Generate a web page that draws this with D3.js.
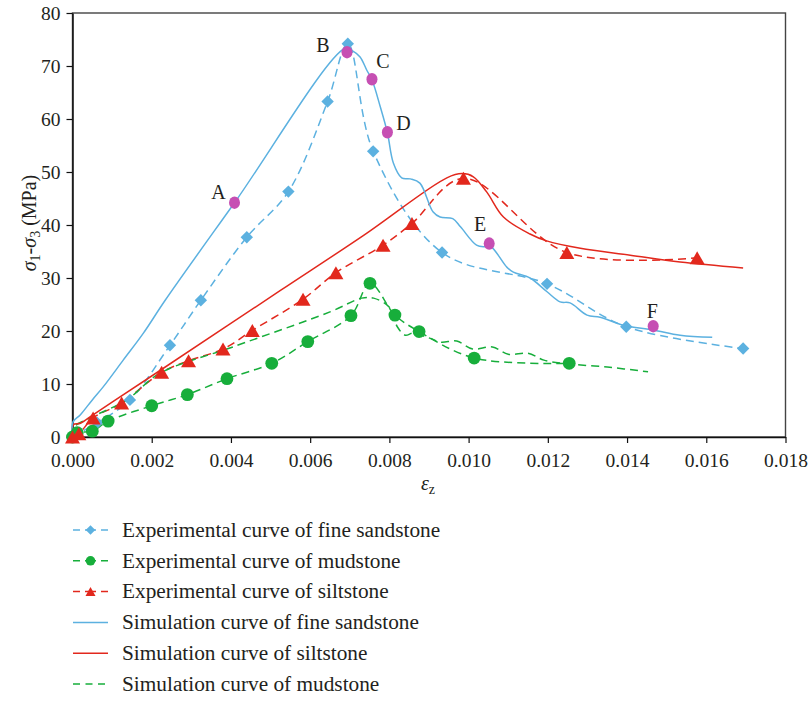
<!DOCTYPE html>
<html>
<head>
<meta charset="utf-8">
<script src="https://cdn.jsdelivr.net/npm/d3@7"></script>
<style>
  html, body { margin: 0; padding: 0; background: #fff; }
  svg { display: block; }
  text { font-family: "Liberation Serif", "DejaVu Serif", serif; fill: #231f20; }
</style>
</head>
<body>
<svg id="chart" width="811" height="701"></svg>
<script>
// Axial strain vs. deviatoric stress for three rock types
const xTicks = [0, 0.002, 0.004, 0.006, 0.008, 0.010, 0.012, 0.014, 0.016, 0.018];
const yTicks = [0, 10, 20, 30, 40, 50, 60, 70, 80];

// Experimental curves [strain, stress MPa]
const expSandstone = [[0,0],[0.00062,2.7],[0.00145,7],[0.00246,17.3],[0.00324,25.8],[0.0044,37.7],
  [0.00545,46.3],[0.00644,63.3],[0.00695,74.2],[0.00759,53.9],[0.00933,34.8],[0.01198,28.9],
  [0.01398,20.8],[0.01693,16.7]];
const expMudstone = [[0,0],[0.00012,0.8],[0.0005,1.1],[0.0009,3],[0.002,5.9],[0.0029,8],[0.0039,11],
  [0.00503,13.9],[0.00594,18],[0.00703,22.9],[0.00751,29],[0.00814,23],[0.00875,19.9],
  [0.01014,14.9],[0.01254,13.9]];
const expSiltstone = [[0,0],[0.00016,0.6],[0.00052,3.6],[0.00124,6.4],[0.00225,12.2],[0.00293,14.4],
  [0.0038,16.6],[0.00454,20.1],[0.00582,26],[0.00665,31],[0.00784,36.2],[0.00857,40.3],
  [0.00987,48.8],[0.01248,34.8],[0.01577,33.8]];

// Simulation curves
const simSandstone = [[0,0],[0.00001,2.8],[0.0002,4.2],[0.0005,7],[0.00078,9.5],[0.00128,14.5],
  [0.00179,19.6],[0.00234,25.8],[0.00409,44.2],[0.00688,73.3],[0.00708,72.8],[0.00726,71.7],
  [0.00743,69.2],[0.00756,67.4],[0.00777,62.3],[0.00795,57.4],[0.0081,51.7],[0.00831,48.9],
  [0.00853,48.7],[0.00877,47.9],[0.0091,42.5],[0.00928,41.5],[0.0096,41.2],[0.0098,39.6],
  [0.0102,36.2],[0.0104,35.9],[0.01055,36],[0.01097,32],[0.01113,31.1],[0.01155,30],
  [0.01198,27.4],[0.01231,25.5],[0.01256,25.3],[0.01299,23],[0.01332,22.6],[0.0139,21.1],
  [0.01466,20.2],[0.01534,19.2],[0.01615,18.8]];
const simSiltstone = [[0,0],[0.00002,2.3],[0.0002,2.6],[0.0005,4.1],[0.001,6.6],[0.0022,12.5],
  [0.00524,27.6],[0.00734,38],[0.00945,48.9],[0.00984,49.7],[0.01012,49.1],[0.01046,46.2],
  [0.01088,41.5],[0.01155,38.3],[0.01197,37],[0.01282,35.6],[0.01408,34.3],[0.01534,33],
  [0.01693,31.9]];
const simMudstone = [[0,0],[0.00003,1.8],[0.0005,3.8],[0.00137,7],[0.0022,12],[0.00405,17],
  [0.0065,23.6],[0.0073,26.2],[0.0076,26.2],[0.008,24.5],[0.0082,20.8],[0.0084,19.2],
  [0.0086,19.6],[0.009,18.7],[0.0093,17.9],[0.0097,18.1],[0.0101,16.6],[0.0106,17],
  [0.011,15.6],[0.0115,15.8],[0.0119,14.5],[0.0125,13.8],[0.0135,13.2],[0.01453,12.3]];

// Labelled states on the fine sandstone simulation curve
const stateLabels = ["A", "B", "C", "D", "E", "F"];
const statePoints = [[0.00409,44.2],[0.00693,72.6],[0.00756,67.5],[0.00795,57.5],[0.01052,36.5],[0.01466,20.9]];

const legendLabels = [
  "Experimental curve of fine sandstone",
  "Experimental curve of mudstone",
  "Experimental curve of siltstone",
  "Simulation curve of fine sandstone",
  "Simulation curve of siltstone",
  "Simulation curve of mudstone"
];

const BLUE = "#5cb1e0", GREEN = "#17ae3b", RED = "#e2281d", MAGENTA = "#c64fb3";

const svg = d3.select("#chart");
const x = d3.scaleLinear().domain([0, 0.018]).range([72.5, 785.5]);
const y = d3.scaleLinear().domain([0, 80]).range([437, 13]);

// plot frame
svg.append("rect").attr("x", x(0)).attr("y", y(80))
  .attr("width", x(0.018) - x(0)).attr("height", y(0) - y(80))
  .attr("fill", "none").attr("stroke", "#444").attr("stroke-width", 1.4);

// axes
const xAxis = svg.append("g").attr("transform", `translate(0,${y(0)})`)
  .call(d3.axisBottom(x).tickValues(xTicks).tickFormat(d3.format(".3f")).tickSize(6).tickSizeOuter(0).tickPadding(10));
const yAxis = svg.append("g").attr("transform", `translate(${x(0)},0)`)
  .call(d3.axisLeft(y).tickValues(yTicks).tickFormat(d3.format("d")).tickSize(6).tickSizeOuter(0).tickPadding(6));
[xAxis, yAxis].forEach(g => {
  g.select(".domain").attr("stroke", "#111").attr("stroke-width", 1.5);
  g.selectAll(".tick line").attr("stroke", "#111").attr("stroke-width", 1.2);
  g.selectAll(".tick text").style("font-family", "Liberation Serif, serif").style("font-size", "19.5px").attr("fill", "#231f20");
});

// axis titles
const yt = svg.append("text").attr("transform", "translate(36,223) rotate(-90)")
  .attr("text-anchor", "middle").style("font-size", "20px");
yt.append("tspan").style("font-style", "italic").text("σ");
yt.append("tspan").attr("baseline-shift", "-25%").style("font-size", "14px").text("1");
yt.append("tspan").text("-");
yt.append("tspan").style("font-style", "italic").text("σ");
yt.append("tspan").attr("baseline-shift", "-25%").style("font-size", "14px").text("3");
yt.append("tspan").text(" (MPa)");

const xt = svg.append("text").attr("x", 428).attr("y", 490).attr("text-anchor", "middle").style("font-size", "20px");
xt.append("tspan").style("font-style", "italic").text("ε");
xt.append("tspan").attr("baseline-shift", "-30%").style("font-size", "14px").text("z");

// line generators
const smooth = d3.line().x(d => x(d[0])).y(d => y(d[1])).curve(d3.curveCatmullRom.alpha(0.5));
const DASH = "8,5";

const g = svg.append("g");
function drawLine(data, color, dashed) {
  g.append("path").attr("d", smooth(data)).attr("fill", "none")
    .attr("stroke", color).attr("stroke-width", 1.5)
    .attr("stroke-dasharray", dashed ? DASH : null);
}
drawLine(expSandstone, BLUE, true);
drawLine(expMudstone, GREEN, true);
drawLine(expSiltstone, RED, true);
drawLine(simMudstone, GREEN, true);
drawLine(simSiltstone, RED, false);
drawLine(simSandstone, BLUE, false);

// marker shapes
function diamondPath(cx, cy, r) {
  return `M${cx},${cy - r}L${cx + r},${cy}L${cx},${cy + r}L${cx - r},${cy}Z`;
}
function trianglePath(cx, cy, w, h) {
  return `M${cx},${cy - h / 2}L${cx + w / 2},${cy + h / 2}L${cx - w / 2},${cy + h / 2}Z`;
}

g.selectAll(".dia").data(expSandstone).join("path")
  .attr("d", d => diamondPath(x(d[0]), y(d[1]), 6.2)).attr("fill", BLUE);
g.selectAll(".cir").data(expMudstone).join("circle")
  .attr("cx", d => x(d[0])).attr("cy", d => y(d[1])).attr("r", 6.4).attr("fill", GREEN);
g.selectAll(".tri").data(expSiltstone).join("path")
  .attr("d", d => trianglePath(x(d[0]), y(d[1]), 15, 13)).attr("fill", RED);

// state points A–F
g.selectAll(".state").data(statePoints).join("ellipse")
  .attr("cx", d => x(d[0])).attr("cy", d => y(d[1])).attr("rx", 5.5).attr("ry", 6.2).attr("fill", MAGENTA);
const labelOffsets = [[-16, -4], [-24, 0], [11, -11], [16, -2], [-9, -13], [-1, -8]];
svg.selectAll(".stateLabel").data(statePoints).join("text")
  .attr("x", (d, i) => x(d[0]) + labelOffsets[i][0])
  .attr("y", (d, i) => y(d[1]) + labelOffsets[i][1])
  .attr("text-anchor", "middle").style("font-size", "20px")
  .text((d, i) => stateLabels[i]);

// legend
const legendStyles = [
  { color: BLUE, dashed: true, marker: "diamond" },
  { color: GREEN, dashed: true, marker: "circle" },
  { color: RED, dashed: true, marker: "triangle" },
  { color: BLUE, dashed: false, marker: null },
  { color: RED, dashed: false, marker: null },
  { color: GREEN, dashed: true, marker: null }
];
const lg = svg.append("g");
legendLabels.forEach((label, i) => {
  const s = legendStyles[i];
  const cy = 530 + i * 30.8;
  const row = lg.append("g");
  if (s.marker) {
    row.append("line").attr("x1", 73).attr("x2", 108).attr("y1", cy).attr("y2", cy)
      .attr("stroke", s.color).attr("stroke-width", 1.5).attr("stroke-dasharray", "7,5,11,5,7");
    if (s.marker === "diamond") row.append("path").attr("d", diamondPath(90.5, cy, 4.8)).attr("fill", s.color);
    if (s.marker === "circle") row.append("circle").attr("cx", 90.5).attr("cy", cy).attr("r", 4.8).attr("fill", s.color);
    if (s.marker === "triangle") row.append("path").attr("d", trianglePath(90.5, cy, 10, 9)).attr("fill", s.color);
  } else {
    row.append("line").attr("x1", 73).attr("x2", 108).attr("y1", cy).attr("y2", cy)
      .attr("stroke", s.color).attr("stroke-width", 1.5)
      .attr("stroke-dasharray", s.dashed ? "7,5.5" : null);
  }
  row.append("text").attr("x", 122).attr("y", cy).attr("dy", "0.32em")
    .style("font-size", "21.3px").text(label);
});
</script>
</body>
</html>
